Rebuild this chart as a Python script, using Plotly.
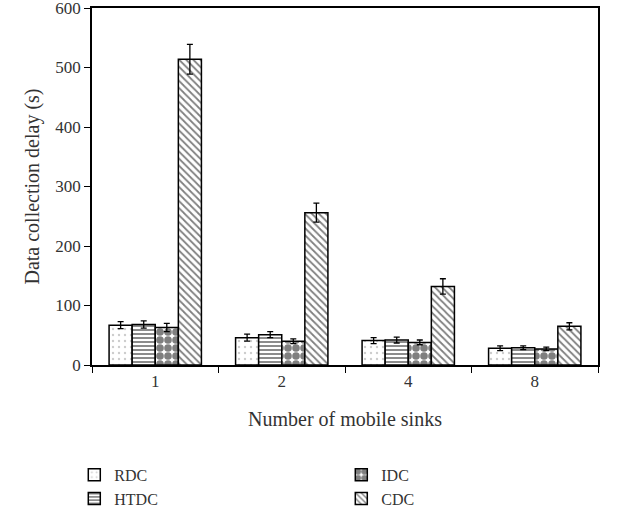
import plotly.graph_objects as go

categories = ["1", "2", "4", "8"]
series_names = ["RDC", "HTDC", "IDC", "CDC"]
rdc = [67, 46, 41, 28]
htdc = [68, 51, 42, 29]
idc = [63, 40, 38, 27]
cdc = [514, 256, 132, 65]
rdc_err = [6, 6, 5, 4]
htdc_err = [6, 5, 5, 3]
idc_err = [7, 4, 4, 3]
cdc_err = [25, 16, 13, 6]

values = [rdc, htdc, idc, cdc]
errors = [rdc_err, htdc_err, idc_err, cdc_err]
patterns = [
    dict(shape=".", fgcolor="#9a9a9a", bgcolor="white", size=6, solidity=0.12, fillmode="overlay"),
    dict(shape="-", fgcolor="black", bgcolor="white", size=4, solidity=0.45, fillmode="overlay"),
    dict(shape=".", fgcolor="black", bgcolor="white", size=8, solidity=0.72, fillmode="overlay"),
    dict(shape="\\", fgcolor="black", bgcolor="white", size=5, solidity=0.35, fillmode="overlay"),
]
ranks = [1, 3, 2, 4]

FONT = "Liberation Serif"
fig = go.Figure()
for name, vals, errs, pat, rk in zip(series_names, values, errors, patterns, ranks):
    fig.add_trace(go.Bar(
        x=categories, y=vals, name=name, legendrank=rk,
        marker=dict(color="white", pattern=pat, line=dict(color="black", width=1.5)),
        error_y=dict(type="data", array=errs, color="black", thickness=1.3, width=3),
    ))

fig.update_layout(
    width=622, height=514,
    margin=dict(l=92, r=24, t=8, b=149, autoexpand=False),
    paper_bgcolor="white", plot_bgcolor="white",
    barmode="group", bargap=0.27, bargroupgap=0,
    font=dict(family=FONT, size=17, color="#333333"),
    showlegend=True,
    legend=dict(orientation="h", x=-0.035, xanchor="left", y=-0.26, yanchor="top",
                entrywidth=222, entrywidthmode="pixels", tracegroupgap=0,
                font=dict(family=FONT, size=16, color="#333333"),
                itemwidth=30, traceorder="normal"),
    xaxis=dict(
        title=dict(text="Number of mobile sinks", standoff=22),
        type="category", tickson="boundaries", ticks="outside", ticklen=6,
        tickcolor="black", showline=True, linecolor="black", linewidth=1.5,
        mirror=True, showgrid=False, zeroline=False,
    ),
    yaxis=dict(
        title=dict(text="Data collection delay (s)", standoff=10),
        range=[0, 600], dtick=100, ticks="outside", ticklen=6, tickcolor="black",
        ticklabeloverflow="allow",
        showline=True, linecolor="black", linewidth=1.5, mirror=True,
        showgrid=False, zeroline=False,
    ),
)

fig.write_html("out.html")
